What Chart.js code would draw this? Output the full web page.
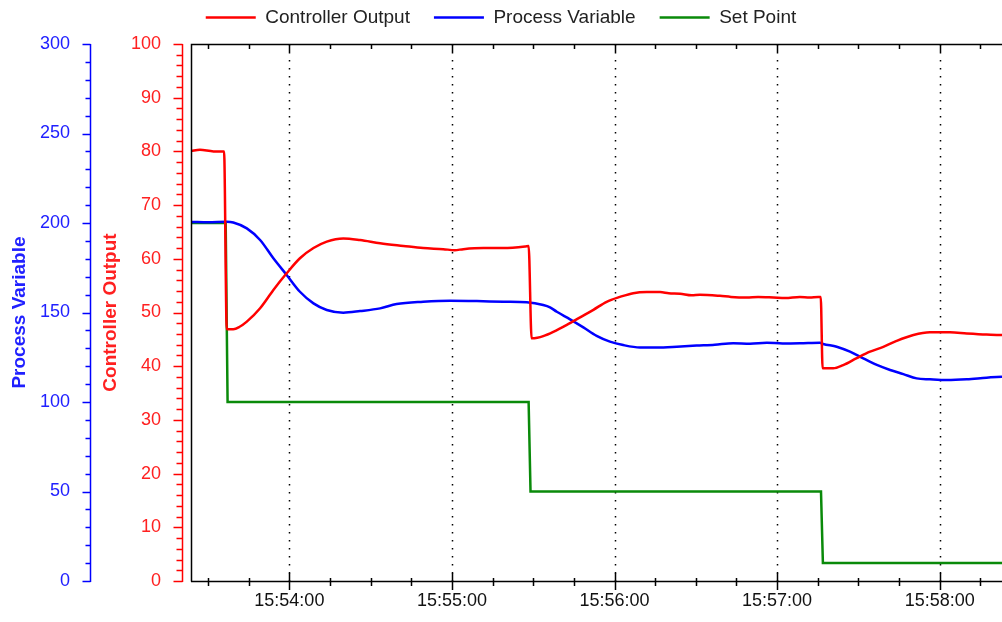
<!DOCTYPE html>
<html>
<head>
<meta charset="utf-8">
<script src="https://cdn.jsdelivr.net/npm/chart.js@4/dist/chart.umd.min.js"></script>
<style>
  html, body { margin: 0; padding: 0; background: #fff; }
</style>
</head>
<body>
<canvas id="myChart" width="1002" height="622"></canvas>
<script>
  // time is in seconds after 15:53:00
  const coTimes = [23.7, 27, 32, 35.9, 36.9, 39.3, 41.5, 44.3, 49.2, 54.1, 59, 63.9, 68.9, 73.8, 79.9, 86.1,
    93.5, 102.1, 109.4, 116.8, 121, 124.2, 131.6, 139, 147, 148.3, 149.4, 151.5, 153.7, 157.4, 162.4, 167.3,
    172.2, 177.1, 182, 186.9, 191.9, 196.8, 200, 204.2, 208.5, 211.5, 218.9, 223, 228.8, 233, 238.6, 243,
    248.4, 252, 255.2, 256.1, 256.8, 260.7, 264.4, 269.4, 274.3, 279.2, 284.1, 290.3, 296.4, 303.8, 310,
    317.3, 323];
  const coValues = [80.1, 80.3, 80.0, 80.0, 46.9, 46.9, 47.3, 48.3, 50.8, 54.2, 57.3, 60.1, 62.0, 63.2, 63.8, 63.5,
    62.9, 62.4, 62.0, 61.8, 61.6, 61.8, 62.0, 62.0, 62.3, 62.4, 45.2, 45.3, 45.6, 46.4, 47.7, 49.1,
    50.5, 52.0, 52.9, 53.6, 53.8, 53.8, 53.6, 53.5, 53.2, 53.3, 53.1, 52.9, 52.8, 52.9, 52.8, 52.7,
    52.9, 52.8, 52.9, 52.9, 39.6, 39.6, 40.2, 41.5, 42.7, 43.6, 44.7, 45.8, 46.3, 46.3, 46.1,
    45.9, 45.8];

  const pvTimes = [24, 30, 36.9, 39.3, 44.3, 49.2, 54.1, 59, 63.9, 68.9, 73.8, 79.9, 86.1, 93.5, 99.6, 109.4,
    119.3, 129.2, 139, 147.6, 153.7, 156.2, 158.7, 163.6, 168.5, 173.4, 178.3, 183.2, 189.4, 195.6, 203, 210.3,
    217, 223.8, 230, 236.2, 242, 248.4, 255.8, 257, 262, 266.9, 271.8, 276.8, 281.7, 286.6, 291.5, 296.4,
    302.6, 310, 317.3, 323];
  const pvValues = [200.6, 200.4, 200.7, 200.3, 197, 190.5, 180.3, 171, 161.6, 155.1, 151.4, 149.9, 150.8, 152.3, 154.7, 156,
    156.6, 156.4, 156, 155.7, 154.2, 152.9, 150.4, 146.2, 141.7, 136.9, 133.7, 131.8, 130.5, 130.5, 130.9, 131.5,
    132.0, 132.8, 132.6, 133.1, 132.7, 132.8, 133.1, 132.4, 130.9, 128.1, 124.4, 120.7, 117.9, 115.6, 113.2, 112.7,
    112.3, 112.7, 113.6, 114.1];

  const spTimes = [23.7, 36.5, 37.2, 148.3, 149.0, 256.2, 256.9, 323];
  const spValues = [200, 200, 100, 100, 50, 50, 10, 10];

  const FONT = "'Liberation Sans', Arial, sans-serif";
  const RED = '#ff0000', BLUE = '#0000ff', GREEN = '#0a8a0a';

  function pts(ts, vs) { return ts.map((t, i) => ({x: t, y: vs[i]})); }
  function fmtTime(s) {
    const total = 53 * 60 + Math.round(s);
    const m = Math.floor(total / 60), sec = total % 60;
    return '15:' + String(m).padStart(2, '0') + ':' + String(sec).padStart(2, '0');
  }

  function valueAxis(ctx, scale, lineX, minorStep, majorStep, majorLen, minorLen, color, a) {
    ctx.strokeStyle = color;
    ctx.beginPath();
    ctx.moveTo(lineX, a.top);
    ctx.lineTo(lineX, a.bottom + 1);
    const n = Math.round((scale.max - scale.min) / minorStep);
    for (let i = 0; i <= n; i++) {
      const v = scale.min + i * minorStep;
      const py = Math.round(scale.getPixelForValue(v)) + 0.5;
      const len = v % majorStep === 0 ? majorLen : minorLen;
      ctx.moveTo(lineX - len, py);
      ctx.lineTo(lineX, py);
    }
    ctx.stroke();
  }

  const axisDecor = {
    id: 'axisDecor',
    beforeLayout(chart) {
      const lg = chart.legend;
      if (lg && !lg._patched) {
        const fit = lg.fit;
        lg.fit = function () { fit.call(this); this.height += 7; };
        lg._patched = true;
      }
    },
    beforeDatasetsDraw(chart) {
      const {ctx, chartArea: a, scales: {x}} = chart;
      ctx.save();
      ctx.strokeStyle = '#000';
      ctx.lineWidth = 1.5;
      ctx.setLineDash([1.5, 6.5]);
      ctx.beginPath();
      for (let t = Math.ceil(x.min / 60) * 60; t <= x.max; t += 60) {
        const px = Math.round(x.getPixelForValue(t)) + 0.5;
        ctx.moveTo(px, a.top);
        ctx.lineTo(px, a.bottom);
      }
      ctx.stroke();
      ctx.restore();
    },
    afterDraw(chart) {
      const {ctx, chartArea: a, scales} = chart;
      const x = scales.x;
      ctx.save();
      ctx.lineWidth = 1.5;
      ctx.strokeStyle = '#000';
      ctx.beginPath();
      ctx.moveTo(a.left + 0.5, a.bottom + 0.5);
      ctx.lineTo(a.left + 0.5, a.top + 0.5);
      ctx.lineTo(a.right, a.top + 0.5);
      ctx.moveTo(a.left, a.bottom + 0.5);
      ctx.lineTo(a.right, a.bottom + 0.5);
      for (let t = Math.ceil(x.min / 15) * 15; t <= x.max; t += 15) {
        const px = Math.round(x.getPixelForValue(t)) + 0.5;
        const major = t % 60 === 0;
        ctx.moveTo(px, a.bottom - (major ? 8 : 3));
        ctx.lineTo(px, a.bottom + (major ? 9 : 5));
        ctx.moveTo(px, a.top);
        ctx.lineTo(px, a.top + (major ? 8 : 5));
      }
      ctx.stroke();
      valueAxis(ctx, scales.pv, Math.round(scales.pv.right) - 0.5, 10, 50, 8, 5, BLUE, a);
      valueAxis(ctx, scales.co, Math.round(scales.co.right) - 8.5, 2, 10, 9, 6, RED, a);
      ctx.restore();
    }
  };

  function series(label, ts, vs, color, axis, smooth) {
    return {
      label: label,
      data: pts(ts, vs),
      borderColor: color,
      backgroundColor: color,
      borderWidth: 2.5,
      pointBorderColor: color,
      pointBackgroundColor: color,
      pointBorderWidth: 2.5,
      pointRadius: 0,
      cubicInterpolationMode: smooth ? 'monotone' : 'default',
      tension: 0,
      yAxisID: axis
    };
  }

  const data = {
    datasets: [
      series('Controller Output', coTimes, coValues, RED, 'co', true),
      series('Process Variable', pvTimes, pvValues, BLUE, 'pv', true),
      series('Set Point', spTimes, spValues, GREEN, 'pv', false)
    ]
  };

  const config = {
    type: 'line',
    data: data,
    options: {
      responsive: false,
      devicePixelRatio: 1,
      animation: false,
      layout: { padding: { top: -16, left: 0, right: 0, bottom: 0 } },
      plugins: {
        tooltip: { enabled: false },
        legend: {
          position: 'top',
          labels: {
            usePointStyle: true,
            pointStyle: 'line',
            pointStyleWidth: 50,
            padding: 24,
            color: '#222',
            font: { family: FONT, size: 19 }
          }
        }
      },
      scales: {
        x: {
          type: 'linear',
          min: 23.7,
          max: 323,
          grid: { display: false, drawTicks: false },
          border: { display: false },
          afterBuildTicks: s => {
            const ticks = [];
            for (let t = Math.ceil(s.min / 60) * 60; t <= s.max; t += 60) ticks.push({ value: t });
            s.ticks = ticks;
          },
          ticks: {
            autoSkip: false,
            maxRotation: 0,
            padding: 9,
            color: '#111',
            font: { family: FONT, size: 18 },
            callback: v => fmtTime(v)
          },
          afterFit: s => { s.height = 41; }
        },
        pv: {
          position: 'left',
          weight: 1,
          min: 0,
          max: 300,
          grid: { display: false, drawTicks: false },
          border: { display: false },
          ticks: { stepSize: 50, padding: 21, color: '#2020ff', font: { family: FONT, size: 18 } },
          title: {
            display: true, text: 'Process Variable', color: '#2020ff',
            font: { family: FONT, size: 19, weight: 'bold', lineHeight: 1.2 },
            padding: { top: 8, bottom: 0 }
          },
          afterFit: s => { s.width = 91; }
        },
        co: {
          position: 'left',
          weight: 0,
          min: 0,
          max: 100,
          grid: { display: false, drawTicks: false },
          border: { display: false },
          ticks: { stepSize: 10, padding: 30, color: '#ff2020', font: { family: FONT, size: 18 } },
          title: {
            display: true, text: 'Controller Output', color: '#ff2020',
            font: { family: FONT, size: 19, weight: 'bold', lineHeight: 1.2 },
            padding: { top: 8, bottom: 0 }
          },
          afterFit: s => { s.width = 100; }
        }
      }
    },
    plugins: [axisDecor]
  };

  const myChart = new Chart(document.getElementById('myChart'), config);
</script>
</body>
</html>
